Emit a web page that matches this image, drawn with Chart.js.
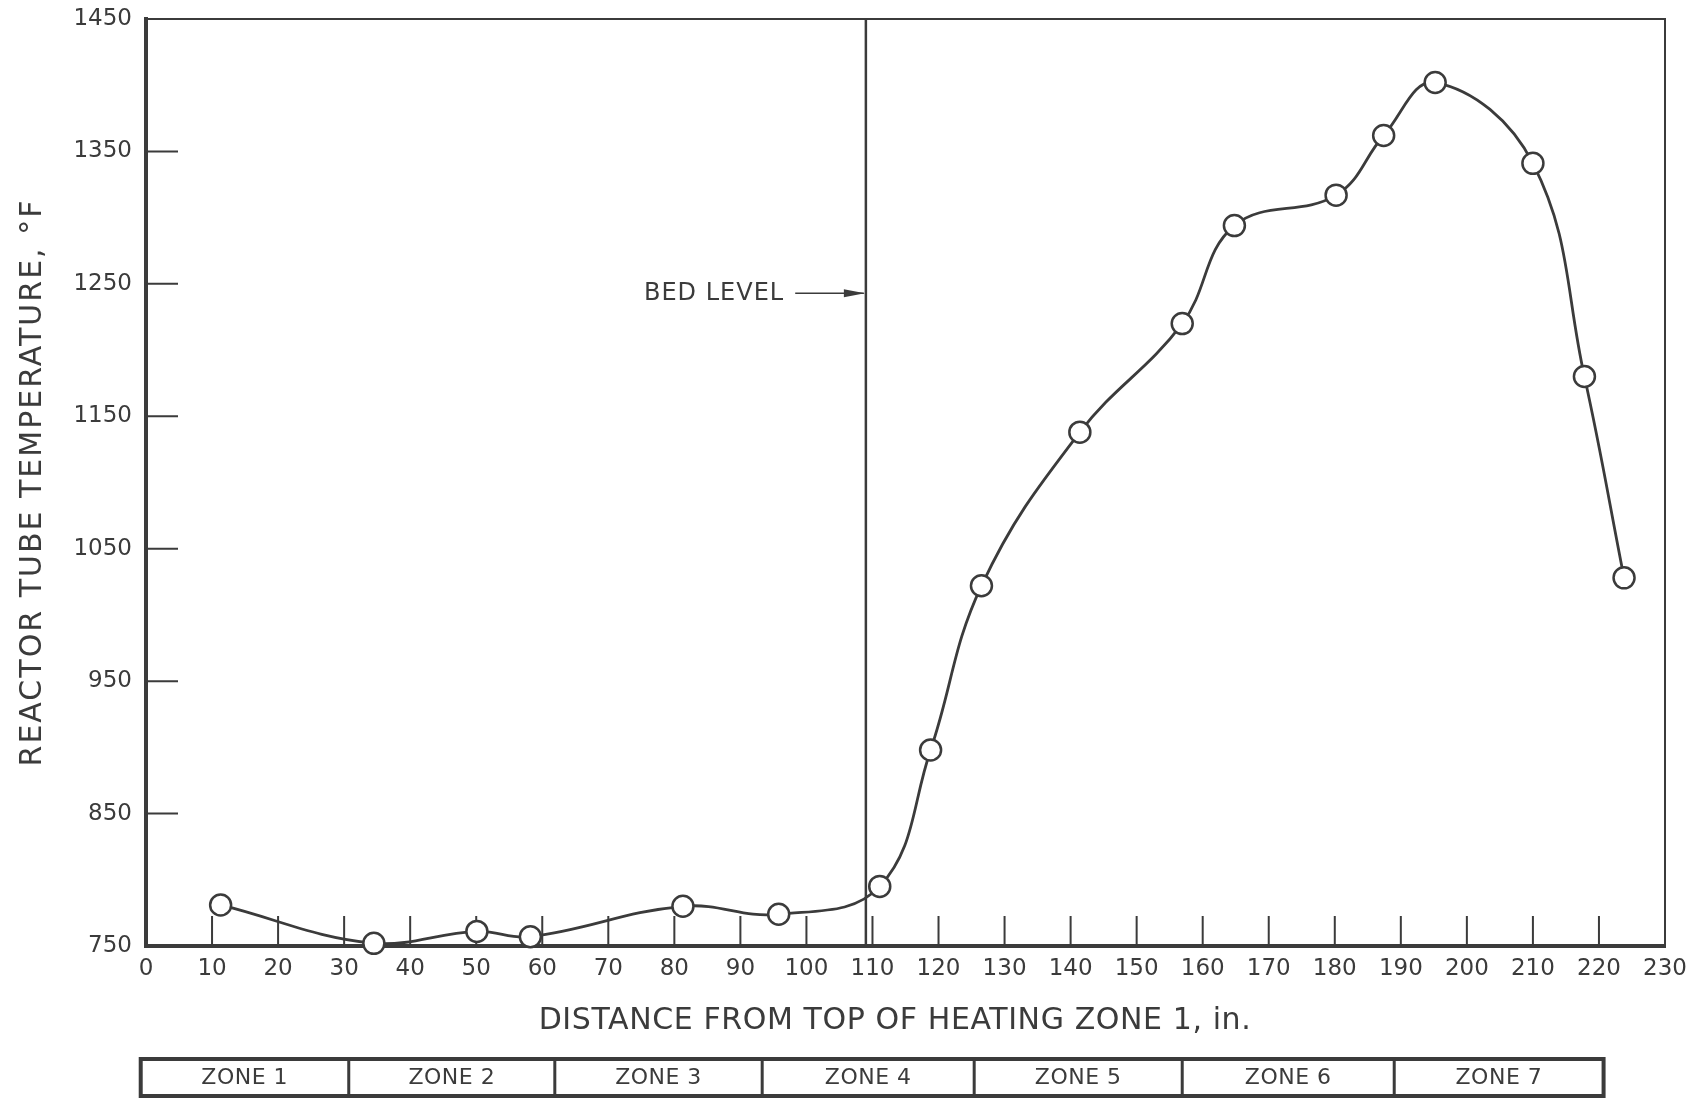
<!DOCTYPE html>
<html>
<head>
<meta charset="utf-8">
<script src="https://cdn.jsdelivr.net/npm/chart.js@4.4.0/dist/chart.umd.min.js"></script>
<style>
    html, body { margin: 0; padding: 0; background: #fff; }
    #wrap { width: 1701px; height: 1102px; }
</style>
</head>
<body>
<div id="wrap"><canvas id="tempChart" width="1701" height="1102"></canvas></div>
<script>
// distance from top of heating zone 1 (in.) and tube wall temperature (deg F)
const distance = [11.3, 34.5, 50.1, 58.2, 81.3, 95.8, 111.1, 118.8, 126.5, 141.4, 156.9, 164.8, 180.2, 187.4, 195.2, 210.0, 217.8, 223.8];
const temperature = [781, 752, 761, 757, 780, 774, 795, 898, 1022, 1138, 1220, 1294, 1317, 1362, 1402, 1341, 1180, 1028];

const zoneNames = ['ZONE 1', 'ZONE 2', 'ZONE 3', 'ZONE 4', 'ZONE 5', 'ZONE 6', 'ZONE 7'];
const zoneEdges = [-0.8, 30.7, 61.9, 93.3, 125.4, 156.9, 189.0, 220.7];

const bedLevel = 109;
const bedLevelMark = 1243;
const bedArrowStart = 98.3;

const xTitle = 'DISTANCE FROM TOP OF HEATING ZONE 1, in.';
const yTitle = 'REACTOR TUBE TEMPERATURE, °F';

const INK = '#3b3b3b';
const FONT = '"DejaVu Sans", sans-serif';

// inward ticks, bed level marker, frame, axis titles and heating-zone strip
const decorations = {
    id: 'decorations',
    beforeDatasetsDraw(chart) {
        const { ctx, chartArea: a, scales: { x, y } } = chart;
        ctx.save();
        ctx.strokeStyle = INK;
        ctx.lineCap = 'butt';

        // top and right frame
        ctx.lineWidth = 2;
        ctx.beginPath();
        ctx.moveTo(a.left, a.top);
        ctx.lineTo(a.right, a.top);
        ctx.lineTo(a.right, a.bottom);
        ctx.stroke();

        // ticks pointing into the plot
        ctx.lineWidth = 2;
        ctx.beginPath();
        for (let v = 10; v < 230; v += 10) {
            const px = x.getPixelForValue(v);
            ctx.moveTo(px, a.bottom);
            ctx.lineTo(px, a.bottom - 30);
        }
        for (let v = 850; v < 1450; v += 100) {
            const py = y.getPixelForValue(v);
            ctx.moveTo(a.left, py);
            ctx.lineTo(a.left + 32, py);
        }
        ctx.stroke();

        // bed level line
        const bx = x.getPixelForValue(bedLevel);
        ctx.lineWidth = 2.5;
        ctx.beginPath();
        ctx.moveTo(bx, a.top);
        ctx.lineTo(bx, a.bottom);
        ctx.stroke();

        // arrow + label
        const ay = y.getPixelForValue(bedLevelMark);
        const ax = x.getPixelForValue(bedArrowStart);
        ctx.lineWidth = 1.5;
        ctx.beginPath();
        ctx.moveTo(ax, ay);
        ctx.lineTo(bx - 2, ay);
        ctx.stroke();
        ctx.fillStyle = INK;
        ctx.beginPath();
        ctx.moveTo(bx - 1, ay);
        ctx.lineTo(bx - 22, ay - 4);
        ctx.lineTo(bx - 22, ay + 4);
        ctx.closePath();
        ctx.fill();

        ctx.font = '24px ' + FONT;
        ctx.letterSpacing = '1px';
        ctx.textAlign = 'right';
        ctx.textBaseline = 'middle';
        ctx.fillText('BED LEVEL', ax - 11, ay + 1);
        ctx.restore();
    },
    afterDraw(chart) {
        const { ctx, chartArea: a, scales: { x } } = chart;
        ctx.save();
        ctx.fillStyle = INK;
        ctx.textAlign = 'center';
        ctx.textBaseline = 'middle';

        // axis titles
        ctx.font = '30px ' + FONT;
        ctx.letterSpacing = '0.6px';
        ctx.fillText(xTitle, 895, 1021);

        ctx.save();
        ctx.translate(33, (a.top + a.bottom) / 2);
        ctx.rotate(-Math.PI / 2);
        ctx.letterSpacing = '2px';
        ctx.fillText(yTitle, 0, 0);
        ctx.restore();

        // heating zones strip
        const top = 1059, bottom = 1096;
        ctx.strokeStyle = INK;
        ctx.lineWidth = 4;
        const x0 = x.getPixelForValue(zoneEdges[0]);
        const x1 = x.getPixelForValue(zoneEdges[zoneEdges.length - 1]);
        ctx.strokeRect(x0, top, x1 - x0, bottom - top);
        ctx.lineWidth = 3;
        ctx.beginPath();
        for (let i = 1; i < zoneEdges.length - 1; i++) {
            const px = x.getPixelForValue(zoneEdges[i]);
            ctx.moveTo(px, top);
            ctx.lineTo(px, bottom);
        }
        ctx.stroke();
        ctx.font = '22px ' + FONT;
        ctx.letterSpacing = '0.5px';
        zoneNames.forEach((name, i) => {
            const cx = (x.getPixelForValue(zoneEdges[i]) + x.getPixelForValue(zoneEdges[i + 1])) / 2;
            ctx.fillText(name, cx, (top + bottom) / 2 + 1);
        });
        ctx.restore();
    }
};

new Chart(document.getElementById('tempChart'), {
    type: 'line',
    data: {
        datasets: [{
            data: distance.map((d, i) => ({ x: d, y: temperature[i] })),
            borderColor: INK,
            borderWidth: 2.8,
            tension: 0.4,
            pointRadius: 10.5,
            pointBackgroundColor: '#fff',
            pointBorderColor: INK,
            pointBorderWidth: 2.5,
            clip: false
        }]
    },
    options: {
        responsive: false,
        animation: false,
        devicePixelRatio: 1,
        layout: { padding: { left: 0, right: 36, top: 19, bottom: 0 } },
        plugins: {
            legend: { display: false },
            tooltip: { enabled: false }
        },
        scales: {
            x: {
                type: 'linear',
                min: 0,
                max: 230,
                afterFit(scale) { scale.height = 156; },
                grid: { display: false, drawTicks: false },
                border: { display: true, color: INK, width: 4 },
                ticks: {
                    stepSize: 10,
                    padding: 9,
                    color: INK,
                    font: { family: FONT, size: 23 },
                    maxRotation: 0
                }
            },
            y: {
                min: 750,
                max: 1450,
                afterFit(scale) {
                    scale.width = 146;
                    scale.paddingTop = 0;
                    scale.paddingBottom = 0;
                },
                grid: { display: false, drawTicks: false },
                border: { display: true, color: INK, width: 4 },
                ticks: {
                    stepSize: 100,
                    padding: 14,
                    color: INK,
                    font: { family: FONT, size: 23 },
                    callback: (v) => String(v)
                }
            }
        }
    },
    plugins: [decorations]
});
</script>
</body>
</html>
